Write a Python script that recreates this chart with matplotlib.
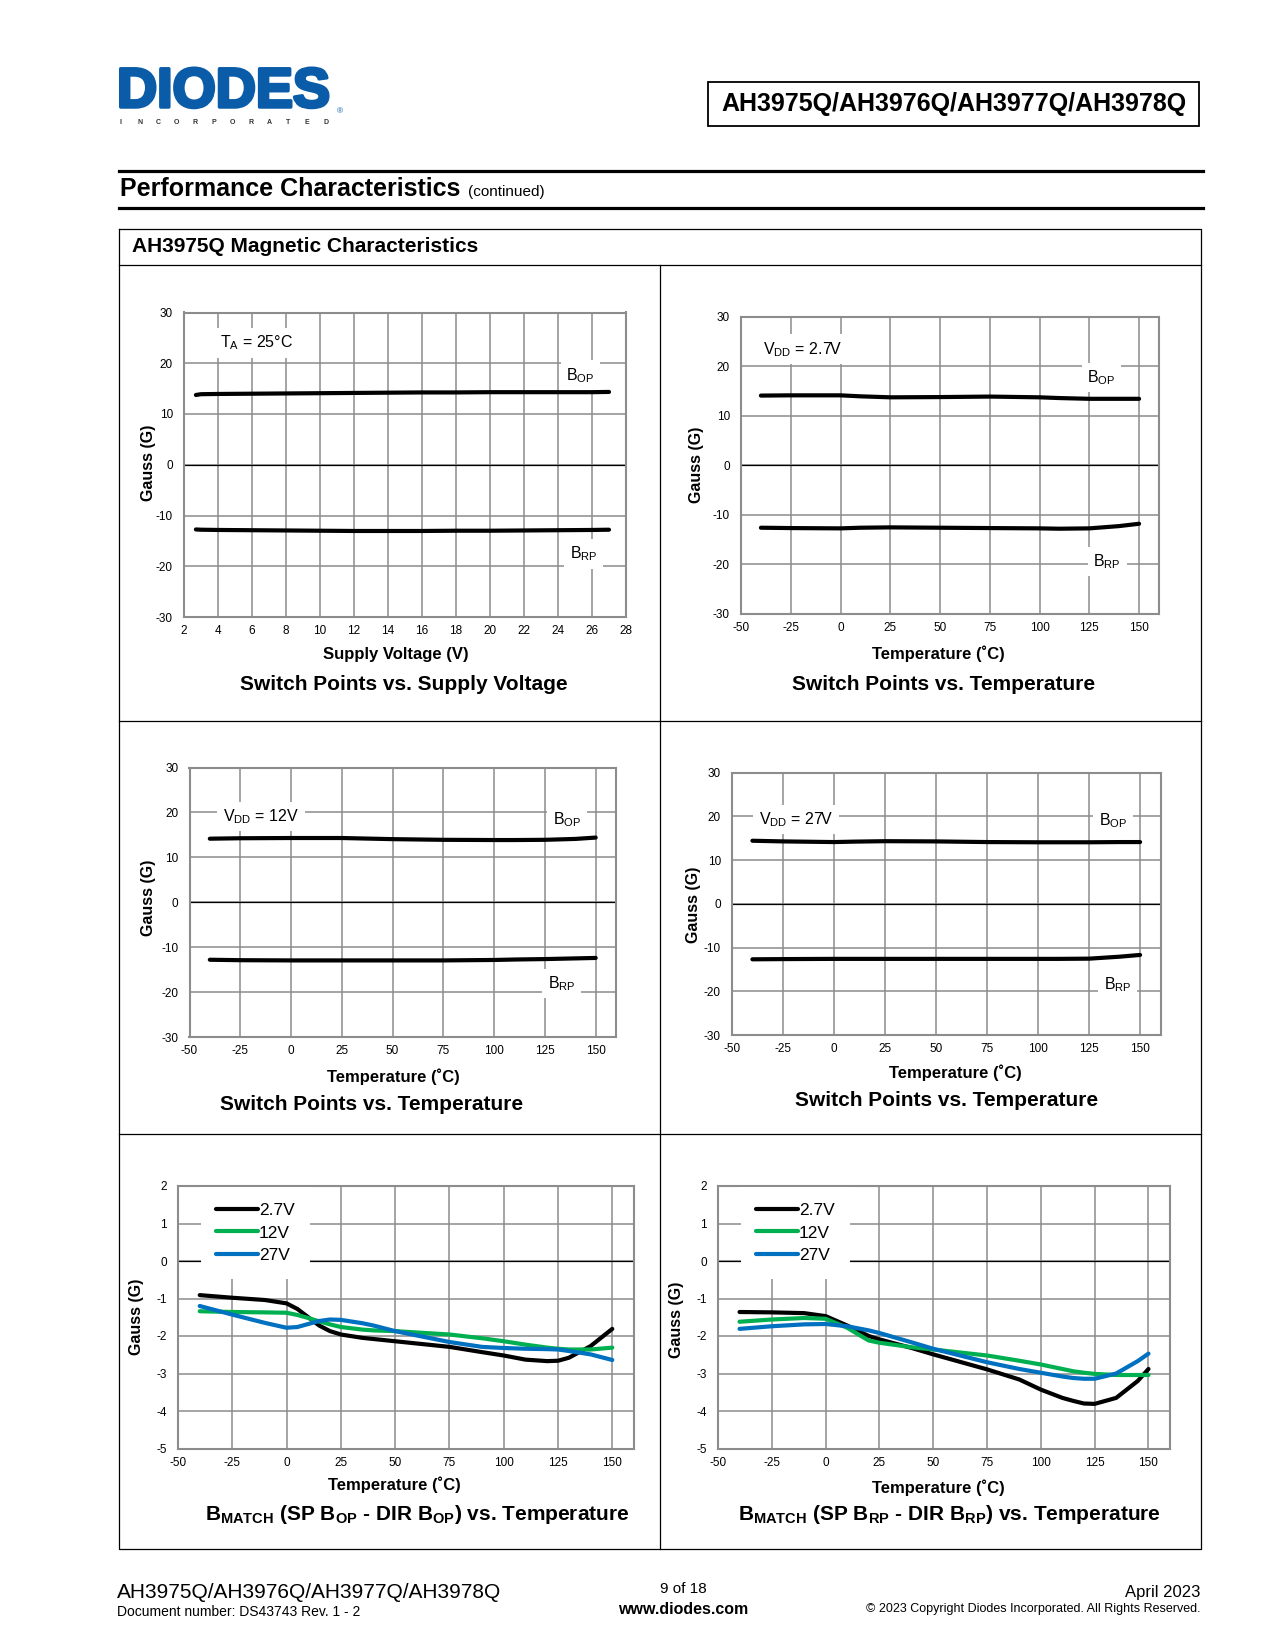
"""Diodes AH3975Q datasheet page 9: magnetic characteristics plots"""
import matplotlib
matplotlib.use('Agg')
import matplotlib.pyplot as plt
import matplotlib.patheffects as pe
from matplotlib.lines import Line2D
from matplotlib.patches import Rectangle
import numpy as np

plt.rcParams['font.family'] = 'Liberation Sans'
plt.rcParams['axes.unicode_minus'] = False
plt.rcParams['mathtext.fontset'] = 'custom'
plt.rcParams['mathtext.rm'] = 'Liberation Sans'
plt.rcParams['mathtext.bf'] = 'Liberation Sans:bold'
plt.rcParams['mathtext.it'] = 'Liberation Sans:italic'

##### data
# switch points vs supply voltage (TA = 25C)
vdd = [2.7, 3, 4, 6, 8, 10, 12, 14, 16, 18, 20, 22, 24, 26, 27]
bop_vdd = [13.75, 13.9, 13.95, 14.0, 14.05, 14.1, 14.15, 14.2, 14.25, 14.25, 14.3, 14.3, 14.3, 14.3, 14.35]
brp_vdd = [-12.75, -12.8, -12.85, -12.9, -12.95, -13.0, -13.05, -13.05, -13.05, -13.0, -13.0, -12.95, -12.9, -12.85, -12.8]

# switch points vs temperature
temp = [-40, -25, 0, 10, 25, 50, 75, 100, 110, 125, 140, 150]
bop_2v7 = [14.05, 14.1, 14.1, 13.9, 13.7, 13.75, 13.85, 13.7, 13.55, 13.4, 13.4, 13.4]
brp_2v7 = [-12.6, -12.67, -12.73, -12.6, -12.53, -12.6, -12.67, -12.73, -12.8, -12.73, -12.27, -11.8]
bop_12v = [14.15, 14.25, 14.3, 14.3, 14.3, 14.05, 13.9, 13.85, 13.85, 13.9, 14.1, 14.4]
brp_12v = [-12.8, -12.9, -12.95, -12.95, -12.95, -12.95, -12.95, -12.85, -12.75, -12.65, -12.5, -12.4]
bop_27v = [14.4, 14.25, 14.1, 14.2, 14.3, 14.25, 14.1, 14.05, 14.05, 14.05, 14.1, 14.1]
brp_27v = [-12.7, -12.65, -12.6, -12.6, -12.6, -12.6, -12.6, -12.6, -12.6, -12.55, -12.1, -11.7]

# BMATCH for BOP
t_op = [-40, -25, -10, 0, 5, 10, 15, 20, 25, 35, 40, 50, 75, 90, 100, 110, 120, 125, 130, 140, 150]
match_op_2v7 = [-0.91, -0.98, -1.04, -1.13, -1.28, -1.50, -1.72, -1.87, -1.96, -2.05, -2.08, -2.14,
                -2.29, -2.43, -2.52, -2.63, -2.67, -2.66, -2.58, -2.27, -1.81]
match_op_12v = [-1.34, -1.36, -1.37, -1.38, -1.44, -1.52, -1.61, -1.69, -1.76, -1.83, -1.85, -1.87,
                -1.96, -2.06, -2.14, -2.23, -2.31, -2.34, -2.36, -2.36, -2.31]
match_op_27v = [-1.20, -1.43, -1.65, -1.78, -1.76, -1.68, -1.60, -1.56, -1.57, -1.66, -1.72, -1.87,
                -2.16, -2.29, -2.32, -2.34, -2.35, -2.36, -2.40, -2.49, -2.64]

# BMATCH for BRP
t_rp = [-40, -25, -10, 0, 10, 20, 25, 40, 50, 75, 90, 100, 110, 115, 120, 125, 135, 145, 150]
match_rp_2v7 = [-1.36, -1.37, -1.39, -1.47, -1.72, -2.00, -2.09, -2.32, -2.49, -2.89, -3.16, -3.43,
                -3.65, -3.73, -3.80, -3.81, -3.65, -3.20, -2.88]
match_rp_12v = [-1.62, -1.56, -1.52, -1.54, -1.78, -2.12, -2.18, -2.30, -2.36, -2.52, -2.66, -2.76,
                -2.88, -2.94, -2.98, -3.01, -3.04, -3.04, -3.04]
match_rp_27v = [-1.81, -1.74, -1.69, -1.68, -1.74, -1.85, -1.92, -2.17, -2.34, -2.70, -2.88, -2.98,
                -3.08, -3.12, -3.14, -3.14, -3.00, -2.67, -2.47]

series_names = ['2.7V', '12V', '27V']
series_colors = ['black', '#00b050', '#0070c0']

W, H = 1275, 1650
GRID = '#8c8c8c'
fig = plt.figure(figsize=(W/100, H/100), dpi=100)


def add_ax(l, t, r, b):
    return fig.add_axes([l/W, 1-b/H, (r-l)/W, (b-t)/H])


def ftext(x, y, s, **kw):
    return fig.text(x/W, 1-y/H, s, **kw)


def fline(xs, ys, lw=0.9):
    fig.add_artist(Line2D([x/W for x in xs], [1-y/H for y in ys], color='k', lw=lw))


def style(ax, xlim, xticks, ylim, yticks):
    ax.set_xlim(xlim)
    ax.set_ylim(ylim)
    ax.set_xticks(xticks)
    ax.set_yticks(yticks)
    ax.grid(True, color=GRID, lw=1.1)
    ax.set_axisbelow(True)
    ax.tick_params(length=0, labelsize=8.5)
    ax.tick_params(axis='x', pad=6)
    ax.tick_params(axis='y', pad=8)
    for s in ax.spines.values():
        s.set_color(GRID)
        s.set_linewidth(1.5)
    ax.axhline(0, color='k', lw=0.9, zorder=2)


def curve(ax, x, y, color='k', **kw):
    ax.plot(x, y, color=color, lw=3, solid_capstyle='round', solid_joinstyle='round',
            zorder=5, **kw)


def label(ax, x, y, s):
    ax.text(x, y, s, fontsize=11.5, ha='left', va='center', zorder=4,
            bbox=dict(fc='white', ec='none', pad=4))


def titles(xl, title, ylab):
    ftext(xl[0], xl[1], 'Temperature (˚C)' if xl[2] is None else xl[2], fontsize=12,
          fontweight='bold', ha='center', va='center')
    ftext(title[0], title[1], title[2], fontsize=15, fontweight='bold', ha='center', va='center')
    ftext(ylab[0], ylab[1], 'Gauss (G)', fontsize=11.5, fontweight='bold', rotation=90,
          ha='center', va='center')


t_ticks = np.arange(-50, 151, 25)

# panel 1: switch points vs supply voltage
ax = add_ax(184, 312.5, 626, 617)
style(ax, (2, 28), np.arange(2, 29, 2), (-30, 30), np.arange(-30, 31, 10))
curve(ax, vdd, bop_vdd)
curve(ax, vdd, brp_vdd)
label(ax, 4.1, 24, 'T$_{\\mathrm{A}}$ = 25°C')
label(ax, 24.5, 17.6, 'B$_{\\mathrm{OP}}$')
label(ax, 24.7, -17.6, 'B$_{\\mathrm{RP}}$')
titles((396, 655, 'Supply Voltage (V)'), (404, 685, 'Switch Points vs. Supply Voltage'), (149, 463))

# panel 2: VDD = 2.7V
ax = add_ax(741, 316.5, 1159, 614)
style(ax, (-50, 160), t_ticks, (-30, 30), np.arange(-30, 31, 10))
curve(ax, temp, bop_2v7)
curve(ax, temp, brp_2v7)
label(ax, -39, 23.4, 'V$_{\\mathrm{DD}}$ = 2.7V')
label(ax, 124, 17.7, 'B$_{\\mathrm{OP}}$')
label(ax, 127, -19.4, 'B$_{\\mathrm{RP}}$')
titles((938, 654, None), (944, 684, 'Switch Points vs. Temperature'), (697, 465))

# panel 3: VDD = 12V
ax = add_ax(189.5, 767.5, 616, 1037)
style(ax, (-50, 160), t_ticks, (-30, 30), np.arange(-30, 31, 10))
curve(ax, temp, bop_12v)
curve(ax, temp, brp_12v)
label(ax, -33.5, 19.1, 'V$_{\\mathrm{DD}}$ = 12V')
label(ax, 129, 18.5, 'B$_{\\mathrm{OP}}$')
label(ax, 126.5, -18.1, 'B$_{\\mathrm{RP}}$')
titles((393, 1077, None), (372, 1105, 'Switch Points vs. Temperature'), (149, 898))

# panel 4: VDD = 27V
ax = add_ax(732, 772.5, 1160.5, 1035)
style(ax, (-50, 160), t_ticks, (-30, 30), np.arange(-30, 31, 10))
curve(ax, temp, bop_27v)
curve(ax, temp, brp_27v)
label(ax, -36.8, 19.25, 'V$_{\\mathrm{DD}}$ = 27V')
label(ax, 129.8, 19, 'B$_{\\mathrm{OP}}$')
label(ax, 132.3, -18.5, 'B$_{\\mathrm{RP}}$')
titles((955, 1073, None), (947, 1100, 'Switch Points vs. Temperature'), (693, 905))

# panel 5 and 6: BMATCH
panels = [
    ((178, 1186, 634, 1448.5), t_op, [match_op_2v7, match_op_12v, match_op_27v],
     (394, 1485, None),
     (417, 1514, 'B$_{\\mathbf{MATCH}}$ (SP B$_{\\mathbf{OP}}$ - DIR B$_{\\mathbf{OP}}$) vs. Temperature'),
     (137, 1317)),
    ((718, 1186, 1170, 1448.5), t_rp, [match_rp_2v7, match_rp_12v, match_rp_27v],
     (938, 1488, None),
     (949, 1515, 'B$_{\\mathbf{MATCH}}$ (SP B$_{\\mathbf{RP}}$ - DIR B$_{\\mathbf{RP}}$) vs. Temperature'),
     (677, 1320)),
]
for box, tt, ys, xl, ttl, yl in panels:
    ax = add_ax(*box)
    style(ax, (-50, 160), t_ticks, (-5, 2), np.arange(-5, 3, 1))
    for y, name, c in zip(ys, series_names, series_colors):
        curve(ax, tt, y, color=c, label=name)
    leg = ax.legend(loc='upper left', bbox_to_anchor=(0.05, 0.995), borderaxespad=0,
                    fontsize=12.5, handlelength=2.4, handletextpad=0.05, labelspacing=0.42,
                    borderpad=0.9, frameon=True, fancybox=False, facecolor='white',
                    edgecolor='none', framealpha=1)
    for ln in leg.get_lines():
        ln.set_linewidth(3)
    titles(xl, ttl, yl)

##### page furniture
BLUE = '#0a5ca8'
ftext(117, 93, 'DIODES', fontsize=40, fontweight='bold', color=BLUE, ha='left', va='center',
      path_effects=[pe.withStroke(linewidth=2.5, foreground=BLUE)])
fig.add_artist(Line2D([121/W, 245/W], [1-92/H, 1-92/H], color='white', lw=1.2))
ftext(337, 112, '®', fontsize=6, color=BLUE, ha='left', va='center')
for i, ch in enumerate('INCORPORATED'):
    ftext(121 + i*18.6, 122, ch, fontsize=5, fontweight='bold', color='#333333',
          ha='center', va='center')

fig.add_artist(Rectangle((708/W, 1-126/H), 491/W, 44/H, fill=False, ec='k', lw=1.3,
                         transform=fig.transFigure))
ftext(954, 104, 'AH3975Q/AH3976Q/AH3977Q/AH3978Q', fontsize=18, fontweight='bold',
      ha='center', va='center')

fline([119, 1203], [171, 171], lw=2.3)
fline([119, 1203], [207.5, 207.5], lw=2.3)
ftext(120, 189, 'Performance Characteristics', fontsize=18, fontweight='bold',
      ha='left', va='center')
ftext(468, 192, '(continued)', fontsize=11, ha='left', va='center')

# outer table frame
fline([119, 1200.5, 1200.5, 119, 119], [228.5, 228.5, 1548.5, 1548.5, 228.5])
fline([119, 1200.5], [264.5, 264.5])
fline([119, 1200.5], [720.5, 720.5])
fline([119, 1200.5], [1134, 1134])
fline([660, 660], [264.5, 1548.5])
ftext(132, 246, 'AH3975Q Magnetic Characteristics', fontsize=15, fontweight='bold',
      ha='left', va='center')

# footer
ftext(117, 1592, 'AH3975Q/AH3976Q/AH3977Q/AH3978Q', fontsize=15, ha='left', va='center')
ftext(117, 1612, 'Document number: DS43743 Rev. 1 - 2', fontsize=10, ha='left', va='center')
ftext(683, 1589, '9 of 18', fontsize=11, ha='center', va='center')
ftext(683, 1609, 'www.diodes.com', fontsize=11.5, fontweight='bold', ha='center', va='center')
ftext(1200, 1592, 'April 2023', fontsize=12, ha='right', va='center')
ftext(1200, 1609, '© 2023 Copyright Diodes Incorporated. All Rights Reserved.', fontsize=9,
      ha='right', va='center')

fig.savefig('out.png', dpi=100)
